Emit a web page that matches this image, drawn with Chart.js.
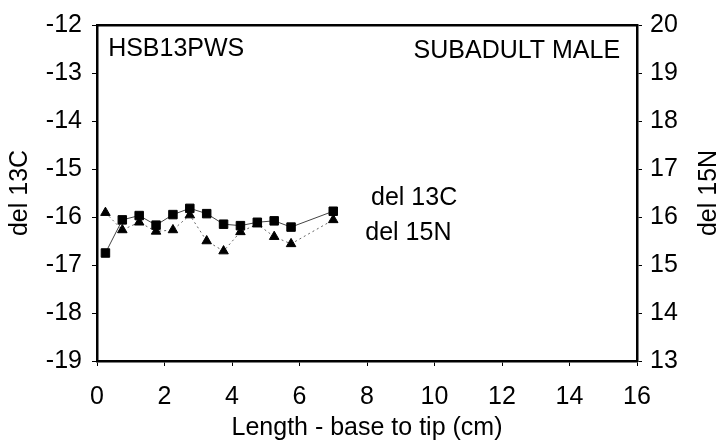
<!DOCTYPE html>
<html>
<head>
<meta charset="utf-8">
<title>HSB13PWS</title>
<script src="https://cdn.jsdelivr.net/npm/chart.js@4/dist/chart.umd.min.js"></script>
<style>
    html, body { margin: 0; padding: 0; background: #fff; }
    #caixa { width: 721px; height: 447px; }
</style>
</head>
<body>
<div id="caixa"><canvas id="grafico" width="721" height="447"></canvas></div>
<script>
// posicao ao longo do pelo (cm)
const comprimento = [0.25, 0.75, 1.25, 1.75, 2.25, 2.75, 3.25, 3.75, 4.25, 4.75, 5.25, 5.75, 7.0];
const del13C = [-16.75, -16.06, -15.97, -16.17, -15.95, -15.82, -15.93, -16.15, -16.18, -16.11, -16.08, -16.21, -15.88];
const del15N = [16.09, 15.73, 15.89, 15.70, 15.73, 16.04, 15.50, 15.29, 15.69, 15.85, 15.59, 15.44, 15.94];

const ticksX = [0, 2, 4, 6, 8, 10, 12, 14, 16];
const ticks13C = [-19, -18, -17, -16, -15, -14, -13, -12];
const ticks15N = [13, 14, 15, 16, 17, 18, 19, 20];

// textos dentro do grafico, em unidades do eixo (cm, del 13C)
const notas = [
    { texto: "HSB13PWS", x: 0.33, y: -12.5, alinhar: "left" },
    { texto: "SUBADULT MALE", x: 15.5, y: -12.55, alinhar: "right" },
    { texto: "del 13C", x: 8.12, y: -15.6, alinhar: "left" },
    { texto: "del 15N", x: 7.95, y: -16.34, alinhar: "left" }
];

const FONTE = "'Liberation Sans', Arial, Helvetica, sans-serif";
const fonte = { family: FONTE, size: 25 };

function pontos(xs, ys) {
    return xs.map((x, i) => ({ x: x, y: ys[i] }));
}

function fixarTicks(lista) {
    return scale => { scale.ticks = lista.map(v => ({ value: v })); };
}

const textosPlugin = {
    id: "textos",
    afterDraw(chart) {
        const { ctx, chartArea, scales } = chart;
        ctx.save();
        ctx.fillStyle = "#000";
        ctx.font = `25px ${FONTE}`;
        ctx.textBaseline = "middle";
        notas.forEach(n => {
            ctx.textAlign = n.alinhar;
            ctx.fillText(n.texto, scales.x.getPixelForValue(n.x), scales.y.getPixelForValue(n.y));
        });
        // titulo do eixo direito, lido de baixo para cima
        ctx.translate(709, (chartArea.top + chartArea.bottom) / 2);
        ctx.rotate(-Math.PI / 2);
        ctx.textAlign = "center";
        ctx.fillText("del 15N", 0, 0);
        ctx.restore();
    }
};

const eixoBase = {
    type: "linear",
    grid: { drawOnChartArea: false, drawTicks: true, tickLength: 5, color: "#000", lineWidth: 1 },
    border: { display: true, color: "#000", width: 2.5 },
    ticks: { color: "#000", font: fonte, maxRotation: 0 }
};

new Chart(document.getElementById("grafico"), {
    type: "line",
    data: {
        datasets: [
            {
                label: "del 13C",
                data: pontos(comprimento, del13C),
                yAxisID: "y",
                borderColor: "#444",
                borderWidth: 1,
                pointStyle: "rect",
                pointRadius: 6,
                pointBackgroundColor: "#000",
                pointBorderColor: "#000",
                pointBorderWidth: 1,
                tension: 0,
                order: 0
            },
            {
                label: "del 15N",
                data: pontos(comprimento, del15N),
                yAxisID: "y2",
                borderColor: "#666",
                borderWidth: 1,
                borderDash: [2, 3],
                pointStyle: "triangle",
                pointRadius: 5.5,
                pointBackgroundColor: "#000",
                pointBorderColor: "#000",
                pointBorderWidth: 1,
                tension: 0,
                order: 1
            }
        ]
    },
    options: {
        responsive: false,
        animation: false,
        devicePixelRatio: 1,
        layout: { padding: { top: 21, left: 0, right: 0, bottom: 0 } },
        plugins: { legend: { display: false }, tooltip: { enabled: false } },
        scales: {
            x: {
                ...eixoBase,
                position: "bottom",
                min: 0,
                max: 16,
                afterBuildTicks: fixarTicks(ticksX),
                ticks: { ...eixoBase.ticks, padding: 16 },
                title: { display: true, text: "Length - base to tip (cm)", color: "#000", font: { ...fonte, lineHeight: 1 }, padding: { top: 0, bottom: 6 } },
                afterFit: scale => { scale.height = 86; }
            },
            xTopo: {
                type: "linear",
                position: "top",
                min: 0,
                max: 16,
                grid: { display: false },
                ticks: { display: false },
                border: { display: true, color: "#000", width: 2.5 },
                afterFit: scale => { scale.height = 0; }
            },
            y: {
                ...eixoBase,
                position: "left",
                min: -19,
                max: -12,
                afterBuildTicks: fixarTicks(ticks13C),
                ticks: { ...eixoBase.ticks, padding: 10 },
                title: { display: true, text: "del 13C", color: "#000", font: { ...fonte, lineHeight: 1 }, padding: { top: 8, bottom: 0 } },
                afterFit: scale => { scale.width = 97; }
            },
            y2: {
                ...eixoBase,
                position: "right",
                min: 13,
                max: 20,
                afterBuildTicks: fixarTicks(ticks15N),
                ticks: { ...eixoBase.ticks, padding: 8 },
                afterFit: scale => { scale.width = 84; }
            }
        }
    },
    plugins: [textosPlugin]
});
</script>
</body>
</html>
